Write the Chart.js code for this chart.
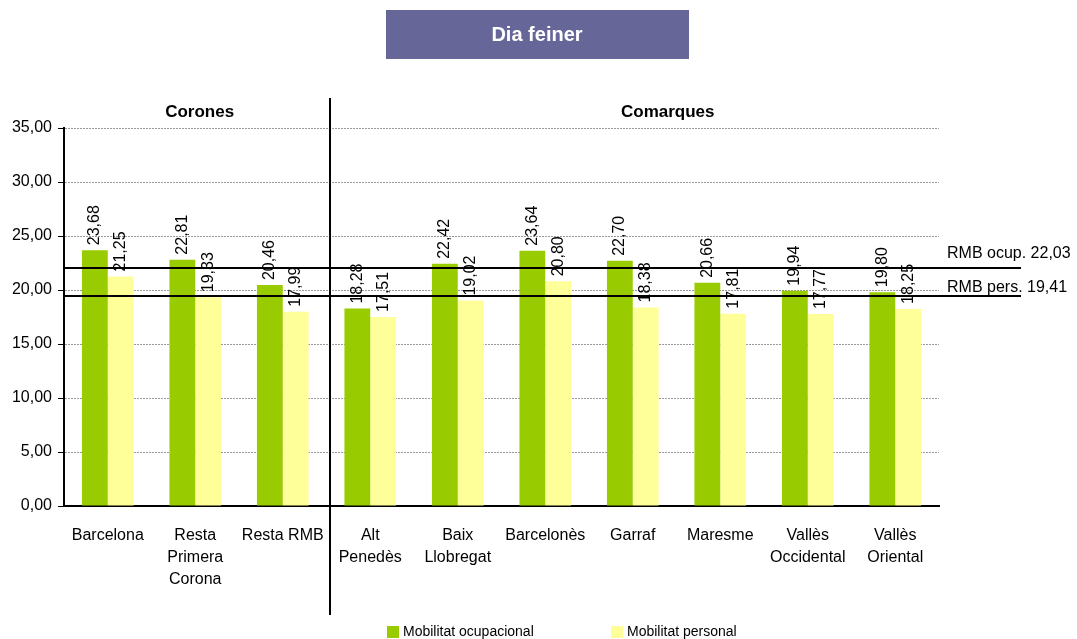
<!DOCTYPE html>
<html>
<head>
<meta charset="utf-8">
<script src="https://cdn.jsdelivr.net/npm/chart.js@4/dist/chart.umd.min.js"></script>
<style>
  html, body { margin: 0; padding: 0; background: #fff; }
  #wrap { position: relative; width: 1077px; height: 639px; }
</style>
</head>
<body>
<div id="wrap"><canvas id="chart"></canvas></div>
<script>
// dades
const categories = [
  ["Barcelona"],
  ["Resta", "Primera", "Corona"],
  ["Resta RMB"],
  ["Alt", "Penedès"],
  ["Baix", "Llobregat"],
  ["Barcelonès"],
  ["Garraf"],
  ["Maresme"],
  ["Vallès", "Occidental"],
  ["Vallès", "Oriental"],
];
const ocupacional = [23.68, 22.81, 20.46, 18.28, 22.42, 23.64, 22.7, 20.66, 19.94, 19.8];
const personal = [21.25, 19.33, 17.99, 17.51, 19.02, 20.8, 18.38, 17.81, 17.77, 18.25];
const referenceValues = [22.03, 19.41];
const referenceLabels = ["RMB ocup. 22,03", "RMB pers. 19,41"];
const groupLabels = ["Corones", "Comarques"];
const seriesLabels = ["Mobilitat ocupacional", "Mobilitat personal"];
const chartTitle = "Dia feiner";

const FONT = "'Liberation Sans', Arial, sans-serif";

function formatNumber(value) {
  return value.toFixed(2).replace(".", ",");
}

// etiquetes i elements extra dibuixats a sobre del gràfic
const extrasPlugin = {
  id: "extras",
  afterDatasetsDraw(chart) {
    const { ctx, chartArea, scales } = chart;
    const x = scales.x;
    const y = scales.y;

    ctx.save();

    // valors a sobre de les barres, girats
    ctx.fillStyle = "#000";
    ctx.font = "16px " + FONT;
    ctx.textAlign = "left";
    ctx.textBaseline = "middle";
    chart.data.datasets.forEach((dataset, i) => {
      chart.getDatasetMeta(i).data.forEach((bar, j) => {
        ctx.save();
        ctx.translate(bar.x, bar.y - 5);
        ctx.rotate(-Math.PI / 2);
        ctx.fillText(formatNumber(dataset.data[j]), 0, 0);
        ctx.restore();
      });
    });

    // línies de referència RMB
    const labelOffsets = [10, 4];
    ctx.strokeStyle = "#000";
    ctx.lineWidth = 2;
    referenceValues.forEach((value, i) => {
      const py = Math.round(y.getPixelForValue(value));
      ctx.beginPath();
      ctx.moveTo(chartArea.left, py);
      ctx.lineTo(1021, py);
      ctx.stroke();
      ctx.font = "16px " + FONT;
      ctx.textBaseline = "alphabetic";
      ctx.textAlign = "left";
      ctx.fillText(referenceLabels[i], 947, py - labelOffsets[i]);
    });

    // separador Corones / Comarques
    const sepX = Math.round(x.getPixelForValue(2.5)) + 3;
    ctx.lineWidth = 2;
    ctx.beginPath();
    ctx.moveTo(sepX, 98);
    ctx.lineTo(sepX, 615);
    ctx.stroke();

    // etiquetes de grup
    ctx.font = "bold 17px " + FONT;
    ctx.textAlign = "center";
    ctx.textBaseline = "middle";
    ctx.fillText(groupLabels[0], x.getPixelForValue(1.05), 112);
    ctx.fillText(groupLabels[1], x.getPixelForValue(6.4), 112);

    // títol
    ctx.fillStyle = "#666699";
    ctx.fillRect(386, 10, 303, 49);
    ctx.fillStyle = "#fff";
    ctx.font = "bold 20px " + FONT;
    ctx.fillText(chartTitle, 537, 35);

    // llegenda
    const legendX = [387, 611];
    ctx.font = "14px " + FONT;
    ctx.textAlign = "left";
    chart.data.datasets.forEach((dataset, i) => {
      ctx.fillStyle = dataset.backgroundColor;
      ctx.fillRect(legendX[i], 626, 12, 12);
      ctx.fillStyle = "#000";
      ctx.fillText(dataset.label, legendX[i] + 16, 632);
    });

    ctx.restore();
  },
};

new Chart(document.getElementById("chart"), {
  type: "bar",
  data: {
    labels: categories,
    datasets: [
      {
        label: seriesLabels[0],
        data: ocupacional,
        backgroundColor: "#99cc00",
        categoryPercentage: 0.59,
        barPercentage: 1,
      },
      {
        label: seriesLabels[1],
        data: personal,
        backgroundColor: "#ffff99",
        categoryPercentage: 0.59,
        barPercentage: 1,
      },
    ],
  },
  options: {
    responsive: true,
    maintainAspectRatio: false,
    animation: false,
    layout: { padding: { top: 128, right: 138, left: 0, bottom: 0 } },
    plugins: {
      legend: { display: false },
      title: { display: false },
      tooltip: { enabled: false },
    },
    scales: {
      x: {
        grid: { display: false },
        border: { color: "#000", width: 2 },
        ticks: {
          color: "#000",
          font: { family: FONT, size: 16, lineHeight: 1.4 },
          maxRotation: 0,
          autoSkip: false,
          padding: 10,
        },
        afterFit(scale) {
          scale.height = 133;
        },
      },
      y: {
        min: 0,
        max: 35,
        border: { color: "#000", width: 2, dash: [2, 1] },
        grid: {
          color: "#9a9a9a",
          tickBorderDash: [],
          tickColor: "#000",
          tickLength: 6,
          drawTicks: true,
        },
        ticks: {
          stepSize: 5,
          color: "#000",
          font: { family: FONT, size: 16 },
          padding: 6,
          callback: (value) => formatNumber(value),
        },
        afterFit(scale) {
          scale.width = 64;
        },
      },
    },
  },
  plugins: [extrasPlugin],
});
</script>
</body>
</html>
